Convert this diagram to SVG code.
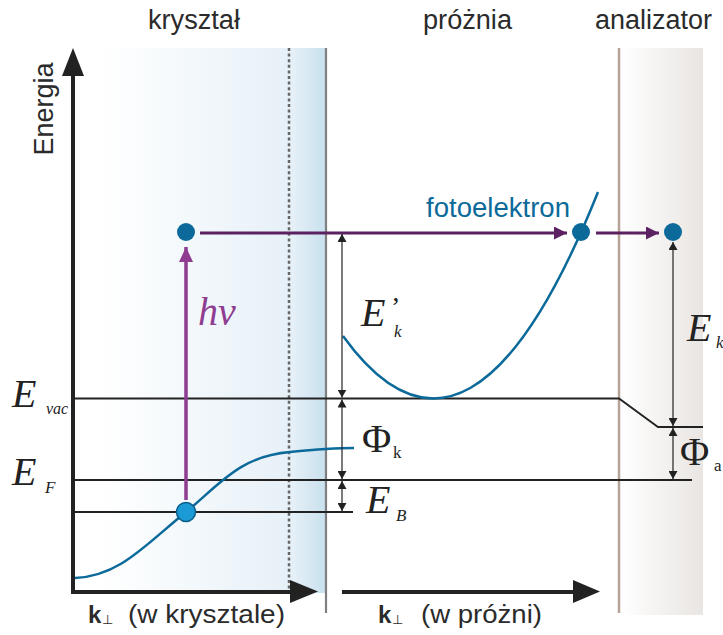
<svg xmlns="http://www.w3.org/2000/svg" width="723" height="635" viewBox="0 0 723 635">
<defs>
<linearGradient id="gCrystal" x1="0" y1="0" x2="1" y2="0">
<stop offset="0" stop-color="#ffffff"/>
<stop offset="0.3" stop-color="#f6fafc"/>
<stop offset="0.8" stop-color="#e8f1f8"/>
<stop offset="0.86" stop-color="#e4eff7"/>
<stop offset="1" stop-color="#c8e0ee"/>
</linearGradient>
<linearGradient id="gAnal" x1="0" y1="0" x2="1" y2="0">
<stop offset="0" stop-color="#ffffff"/>
<stop offset="0.35" stop-color="#f7f6f5"/>
<stop offset="1" stop-color="#e9e5e2"/>
</linearGradient>
<marker id="dim" viewBox="0 0 8 9" refX="8" refY="4.5" markerWidth="8" markerHeight="9" markerUnits="userSpaceOnUse" orient="auto-start-reverse">
<path d="M0,0 L8,4.5 L0,9 z" fill="#222"/>
</marker>
<marker id="pv" viewBox="0 0 15 14" refX="15" refY="7" markerWidth="15" markerHeight="14" markerUnits="userSpaceOnUse" orient="auto">
<path d="M0,0 L15,7 L0,14 z" fill="#8e3d91"/>
</marker>
<marker id="ph" viewBox="0 0 13 13" refX="13" refY="6.5" markerWidth="13" markerHeight="13" markerUnits="userSpaceOnUse" orient="auto">
<path d="M0,0 L13,6.5 L0,13 z" fill="#5b2160"/>
</marker>
<style>
.lab{font-family:"Liberation Sans",Arial,sans-serif;font-size:27px;fill:#2b2b2b}
.m{font-family:"Liberation Serif","Times New Roman",serif;font-style:italic;fill:#222;font-size:40px}
.mu{font-family:"Liberation Serif","Times New Roman",serif;fill:#222;font-size:40px}
.sub{font-size:17px}
.lvl{stroke:#222;stroke-width:1.8;fill:none}
.dimL{stroke:#222;stroke-width:1.2;marker-start:url(#dim);marker-end:url(#dim)}
.band{stroke:#0b6a9a;stroke-width:2.5;fill:none}
.dot{fill:#0b6a9a}
</style>
</defs>

<g id="regions">
<rect x="100" y="48" width="226" height="545" fill="url(#gCrystal)"/>
<rect x="620" y="48" width="83" height="567" fill="url(#gAnal)"/>
<line x1="289" y1="48" x2="289" y2="590" stroke="#666" stroke-width="2.5" stroke-dasharray="3,2.6"/>
<line x1="326" y1="48" x2="326" y2="613" stroke="#7f7f7f" stroke-width="2.2"/>
<line x1="619" y1="48" x2="619" y2="613" stroke="#b5a397" stroke-width="2.5"/>
</g>

<g id="labels-top">
<text class="lab" x="148" y="29" textLength="92" lengthAdjust="spacingAndGlyphs">kryształ</text>
<text class="lab" x="423" y="29" textLength="89" lengthAdjust="spacingAndGlyphs">próżnia</text>
<text class="lab" x="595" y="29" textLength="117" lengthAdjust="spacingAndGlyphs">analizator</text>
</g>

<g id="axes">
<line x1="73" y1="74" x2="73" y2="594" stroke="#222" stroke-width="4"/>
<polygon points="73,48 62,76 84,76" fill="#222"/>
<line x1="71" y1="592" x2="292" y2="592" stroke="#222" stroke-width="4"/>
<polygon points="318,591.5 290,580 290,603" fill="#222"/>
<line x1="342" y1="592" x2="575" y2="592" stroke="#222" stroke-width="4"/>
<polygon points="600,591.5 573,580 573,603" fill="#222"/>
<text class="lab" transform="translate(53,109) rotate(-90)" text-anchor="middle">Energia</text>
<text class="lab" x="88" y="623" font-weight="bold" style="font-size:24px">k</text>
<text class="lab" x="102" y="624" style="font-size:13px">⊥</text>
<text class="lab" x="128" y="623" textLength="157" lengthAdjust="spacingAndGlyphs" style="font-size:26px">(w krysztale)</text>
<text class="lab" x="378" y="623" font-weight="bold" style="font-size:24px">k</text>
<text class="lab" x="392" y="624" style="font-size:13px">⊥</text>
<text class="lab" x="421" y="623" textLength="121" lengthAdjust="spacingAndGlyphs" style="font-size:26px">(w próżni)</text>
</g>

<g id="levels">
<path class="lvl" d="M73,398.5 H619 L658,427 H703"/>
<line class="lvl" x1="73" y1="480" x2="692" y2="480"/>
<line class="lvl" x1="73" y1="512" x2="353" y2="512"/>
</g>

<g id="bands">
<path class="band" d="M75,578 C120,576 145,545 186,512 C220,484 240,456 290,452 C320,449 340,448 354,448"/>
<path class="band" d="M343,336 Q470,512 598,192"/>
</g>

<g id="connectors">
<line x1="186" y1="500" x2="186" y2="247" stroke="#8e3d91" stroke-width="3.5" marker-end="url(#pv)"/>
<line x1="200" y1="233" x2="567" y2="233" stroke="#5b2160" stroke-width="3" marker-end="url(#ph)"/>
<line x1="596" y1="233" x2="659" y2="233" stroke="#5b2160" stroke-width="3" marker-end="url(#ph)"/>
<line class="dimL" x1="342" y1="234" x2="342" y2="397.5"/>
<line class="dimL" x1="342" y1="399.5" x2="342" y2="479"/>
<line class="dimL" x1="342" y1="481" x2="342" y2="511"/>
<line class="dimL" x1="673" y1="242" x2="673" y2="426"/>
<line class="dimL" x1="673" y1="428" x2="673" y2="479"/>
</g>

<g id="dots">
<circle class="dot" cx="186" cy="232" r="9"/>
<circle class="dot" cx="581" cy="232" r="9"/>
<circle class="dot" cx="673" cy="232" r="9"/>
<circle cx="186" cy="512" r="9.5" fill="#1b9ad6" stroke="#0b5f8a" stroke-width="1.5"/>
</g>

<g id="math-labels">
<text class="m" x="198" y="325" style="fill:#8e3d91">hv</text>
<text class="lab" x="426" y="217" textLength="144" lengthAdjust="spacingAndGlyphs" style="fill:#0b6a9a">fotoelektron</text>
<text class="m" x="361" y="326">E<tspan class="mu" x="391" y="316" style="font-size:28px;font-style:normal">’</tspan><tspan class="sub" x="394" y="337">k</tspan></text>
<text class="m" x="687" y="341">E<tspan class="sub" x="716" y="348">k</tspan></text>
<text class="m" x="12" y="407">E<tspan x="46" y="414" style="font-size:16px">vac</tspan></text>
<text class="m" x="12" y="485">E<tspan class="sub" x="45" y="493">F</tspan></text>
<text class="mu" x="362" y="452">Φ<tspan class="sub" x="393" y="458">k</tspan></text>
<text class="m" x="366" y="513">E<tspan class="sub" x="396" y="521">B</tspan></text>
<text class="mu" x="680" y="465">Φ<tspan class="sub" x="714" y="471">a</tspan></text>
</g>
</svg>
